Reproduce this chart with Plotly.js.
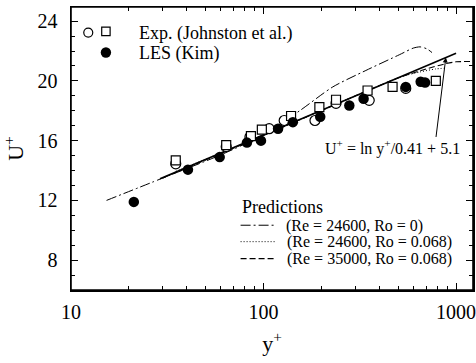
<!DOCTYPE html>
<html>
<head>
<meta charset="utf-8">
<script src="https://cdn.plot.ly/plotly-3.0.1.min.js"></script>
<style>html,body{margin:0;padding:0;background:#fff;}#chart{width:476px;height:363px;}</style>
</head>
<body>
<div id="chart"></div>
<script>
// Experimental data (Johnston et al.) - open circles
const expCircX = [35, 64, 85, 107, 128, 185, 238, 354, 548];
const expCircY = [14.45, 15.6, 16.25, 16.8, 17.35, 17.35, 18.5, 18.7, 19.5];
// Experimental data (Johnston et al.) - open squares
const expSqX = [35, 64, 86, 98, 139, 195, 238, 347, 468, 785];
const expSqY = [14.68, 15.7, 16.3, 16.74, 17.65, 18.25, 18.74, 19.36, 19.6, 20.0];
// LES (Kim) - filled circles
const lesX = [21.2, 40.5, 59.2, 82, 97, 119, 142, 197, 279, 331, 548, 655, 690];
const lesY = [11.9, 14.06, 14.9, 15.87, 16.0, 16.8, 17.24, 17.6, 18.36, 18.81, 19.6, 19.95, 19.9];
// Log law line
const lawX = [29, 1000];
const lawY = [13.45, 21.85];
// Prediction: Re = 24600, Ro = 0 (dash-dot)
const p1X = [15.3, 30, 60, 100, 154, 229, 340, 507, 600, 650, 705, 750];
const p1Y = [12.0, 13.5, 15.05, 16.4, 18.0, 19.6, 20.7, 21.75, 22.2, 22.28, 22.15, 21.9];
// Prediction: Re = 24600, Ro = 0.068 (dotted)
const p2X = [35, 100, 300, 527, 650, 783, 870];
const p2Y = [13.95, 16.35, 19.0, 20.3, 20.6, 20.8, 20.85];
// Prediction: Re = 35000, Ro = 0.068 (dashed)
const p3X = [30, 100, 300, 500, 700, 880, 1000, 1230];
const p3Y = [13.5, 16.35, 19.0, 20.2, 20.8, 21.15, 21.28, 21.3];

const xTicks = [10, 100, 1000];
const xTickText = ['10', '100', '1000'];
const xMinor = [20,30,40,50,60,70,80,90,200,300,400,500,600,700,800,900];
const yTicks = [8, 12, 16, 20, 24];

const FONT = 'Liberation Serif, Times New Roman, serif';

const traces = [
  {x: lawX, y: lawY, mode: 'lines', line: {color: '#000', width: 1.6}, name: 'log law'},
  {x: p1X, y: p1Y, mode: 'lines', line: {color: '#000', width: 1, dash: '10px,3px,2px,3px', shape: 'spline', smoothing: 0.7}, name: '(Re = 24600, Ro = 0)'},
  {x: p2X, y: p2Y, mode: 'lines', line: {color: '#000', width: 1, dash: '1px,2px', shape: 'spline', smoothing: 0.7}, name: '(Re = 24600, Ro = 0.068)'},
  {x: p3X, y: p3Y, mode: 'lines', line: {color: '#000', width: 1.1, dash: '6px,3px', shape: 'spline', smoothing: 0.7}, name: '(Re = 35000, Ro = 0.068)'},
  {x: expCircX, y: expCircY, mode: 'markers', marker: {symbol: 'circle', size: 10, color: '#fff', line: {color: '#000', width: 1.2}}, name: 'Exp. circles'},
  {x: expSqX, y: expSqY, mode: 'markers', marker: {symbol: 'square', size: 9, color: '#fff', line: {color: '#000', width: 1.2}}, name: 'Exp. squares'},
  {x: lesX, y: lesY, mode: 'markers', marker: {symbol: 'circle', size: 10.5, color: '#000', line: {color: '#000', width: 0}}, name: 'LES (Kim)'}
];

function px2paper(px, py) { return [(px - 71) / 403, (290 - py) / 284]; }

const shapes = [];
const annotations = [];
// plot frame
shapes.push({type: 'rect', xref: 'paper', yref: 'paper', x0: 0, x1: 1, y0: 0, y1: 1, line: {color: '#000', width: 1.6}, layer: 'above'});
(function(){
  const oc = px2paper(88.3, 31.7);
  shapes.push({type: 'circle', xref: 'paper', yref: 'paper', xsizemode: 'pixel', ysizemode: 'pixel',
    xanchor: oc[0], yanchor: oc[1], x0: -4.5, x1: 4.5, y0: -4.5, y1: 4.5, line: {color: '#000', width: 1.2}, fillcolor: '#fff'});
  const sq = px2paper(106, 30.5);
  shapes.push({type: 'rect', xref: 'paper', yref: 'paper', xsizemode: 'pixel', ysizemode: 'pixel',
    xanchor: sq[0], yanchor: sq[1], x0: -4.2, x1: 4.2, y0: -4.2, y1: 4.2, line: {color: '#000', width: 1.2}, fillcolor: '#fff'});
  const fc = px2paper(106, 51.7);
  shapes.push({type: 'circle', xref: 'paper', yref: 'paper', xsizemode: 'pixel', ysizemode: 'pixel',
    xanchor: fc[0], yanchor: fc[1], x0: -5.2, x1: 5.2, y0: -5.2, y1: 5.2, line: {color: '#000', width: 0}, fillcolor: '#000'});
  const t1 = px2paper(136.7, 33);
  annotations.push({xref: 'paper', yref: 'paper', x: t1[0], y: t1[1], xanchor: 'left', yanchor: 'middle', showarrow: false,
    text: 'Exp. (Johnston et al.)', font: {family: FONT, size: 18, color: '#000'}});
  const t2 = px2paper(136.7, 52.5);
  annotations.push({xref: 'paper', yref: 'paper', x: t2[0], y: t2[1], xanchor: 'left', yanchor: 'middle', showarrow: false,
    text: 'LES (Kim)', font: {family: FONT, size: 18, color: '#000'}});
  const tp = px2paper(240, 206.7);
  annotations.push({xref: 'paper', yref: 'paper', x: tp[0], y: tp[1], xanchor: 'left', yanchor: 'middle', showarrow: false,
    text: 'Predictions', font: {family: FONT, size: 18, color: '#000'}});
  const rows = [[225, '10px,3px,2px,3px', 1, '(Re = 24600, Ro = 0)', 284.5],
                [241.5, '1px,2px', 1, '(Re = 24600, Ro = 0.068)', 286],
                [258.5, '6px,3px', 1.1, '(Re = 35000, Ro = 0.068)', 286]];
  rows.forEach(r => {
    const a = px2paper(241, r[0]);
    const b = px2paper(277, r[0]);
    shapes.push({type: 'line', xref: 'paper', yref: 'paper', x0: a[0], x1: b[0], y0: a[1], y1: b[1],
      line: {color: '#000', width: r[2], dash: r[1]}});
    const t = px2paper(r[4], r[0] + 0.5);
    annotations.push({xref: 'paper', yref: 'paper', x: t[0], y: t[1], xanchor: 'left', yanchor: 'middle', showarrow: false,
      text: r[3], font: {family: FONT, size: 16, color: '#000'}});
  });
  annotations.push({xref: 'x', yref: 'y', x: Math.log10(466), y: 15.55, xanchor: 'center', yanchor: 'middle', showarrow: false,
    text: 'U<sup>+</sup> = ln y<sup>+</sup>/0.41 + 5.1', font: {family: FONT, size: 16, color: '#000'}});
  annotations.push({xref: 'x', yref: 'y', x: Math.log10(885), y: 21.57, ax: -10, ay: 81, text: '', showarrow: true,
    arrowhead: 2, arrowsize: 1, arrowwidth: 1, arrowcolor: '#000', standoff: 0, startstandoff: 0});
})();

const layout = {
  width: 476, height: 363,
  margin: {l: 71, r: 3, t: 7, b: 73},
  paper_bgcolor: '#fff', plot_bgcolor: '#fff',
  showlegend: false,
  font: {family: FONT, color: '#000'},
  xaxis: {
    type: 'log', range: [1, 3.088], tickmode: 'array', tickvals: xTicks, ticktext: xTickText,
    ticks: 'inside', ticklen: 7, tickwidth: 1, tickcolor: '#000',
    minor: {tickmode: 'array', tickvals: xMinor, ticks: 'inside', ticklen: 4, tickwidth: 1, tickcolor: '#000', showgrid: false},
    showline: true, linecolor: '#000', linewidth: 1.5, mirror: 'allticks', showgrid: false, zeroline: false,
    tickfont: {family: FONT, size: 20, color: '#000'},
    ticklabelstandoff: 3,
    ticklabeloverflow: 'allow',
    title: {text: 'y<sup>+</sup>', font: {family: FONT, size: 22, color: '#000'}, standoff: 14},
    automargin: false
  },
  yaxis: {
    range: [6, 24.95], tickmode: 'array', tickvals: yTicks,
    ticks: 'inside', ticklen: 7, tickwidth: 1, tickcolor: '#000',
    minor: {dtick: 1, ticks: 'inside', ticklen: 4, tickwidth: 1, tickcolor: '#000', showgrid: false},
    showline: true, linecolor: '#000', linewidth: 1.5, mirror: 'allticks', showgrid: false, zeroline: false,
    tickfont: {family: FONT, size: 20, color: '#000'},
    ticklabelstandoff: 8,
    ticklabeloverflow: 'allow',
    title: {text: 'U<sup>+</sup>', font: {family: FONT, size: 22, color: '#000'}, standoff: 10},
    automargin: false
  },
  shapes: shapes,
  annotations: annotations
};

Plotly.newPlot('chart', traces, layout, {displayModeBar: false, staticPlot: true});
</script>
</body>
</html>
